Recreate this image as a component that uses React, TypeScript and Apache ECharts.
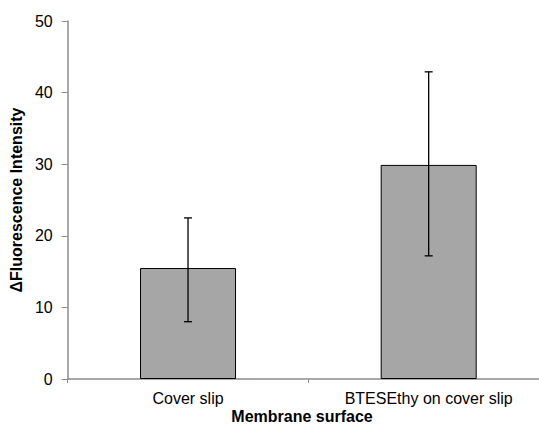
import React, { useEffect, useRef } from "react";
import * as echarts from "echarts";

const categories = ["Cover slip", "BTESEthy on cover slip"];
const means = [15.5, 29.9];
const errLow = [8.0, 17.2];
const errHigh = [22.5, 42.9];
const yTicks = { min: 0, max: 50, interval: 10 };

export default function App() {
  const ref = useRef<HTMLDivElement>(null);
  useEffect(() => {
    const chart = echarts.init(ref.current!, null, { renderer: "svg" });
    const font = "'Liberation Sans', Arial, sans-serif";
    chart.setOption({
      animation: false,
      backgroundColor: "#ffffff",
      grid: { left: 67, top: 21, width: 482, bottom: 46 },
      xAxis: {
        type: "category",
        data: categories,
        axisLine: { lineStyle: { color: "#8c8c8c", width: 1.5 } },
        axisTick: { show: true, length: 4, lineStyle: { color: "#8c8c8c" } },
        axisLabel: { color: "#000", fontFamily: font, fontSize: 16, margin: 11 },
      },
      yAxis: {
        type: "value",
        min: yTicks.min,
        max: yTicks.max,
        interval: yTicks.interval,
        name: "ΔFluorescence Intensity",
        nameLocation: "middle",
        nameGap: 42,
        nameTextStyle: { color: "#000", fontFamily: font, fontSize: 16, fontWeight: "bold" },
        splitLine: { show: false },
        axisLine: { show: true, lineStyle: { color: "#8c8c8c", width: 1.5 } },
        axisTick: { show: true, length: 6, lineStyle: { color: "#8c8c8c" } },
        axisLabel: { color: "#000", fontFamily: font, fontSize: 16, margin: 15 },
      },
      graphic: [
        {
          type: "text",
          x: 302,
          y: 416,
          style: {
            text: "Membrane surface",
            font: `bold 16px ${font}`,
            fill: "#000",
            align: "center",
            verticalAlign: "middle",
          },
        },
      ],
      series: [
        {
          type: "bar",
          data: means,
          barWidth: 96,
          itemStyle: { color: "#a6a6a6", borderColor: "#000", borderWidth: 1 },
        },
        {
          type: "custom",
          data: categories.map((_, i) => [i, errLow[i], errHigh[i]]),
          renderItem: (params: any, api: any) => {
            const x = api.value(0);
            const lo = api.coord([x, api.value(1)]);
            const hi = api.coord([x, api.value(2)]);
            const cap = 4;
            const style = { stroke: "#000", lineWidth: 1.3 };
            return {
              type: "group",
              children: [
                { type: "line", shape: { x1: lo[0], y1: lo[1], x2: hi[0], y2: hi[1] }, style },
                { type: "line", shape: { x1: lo[0] - cap, y1: lo[1], x2: lo[0] + cap, y2: lo[1] }, style },
                { type: "line", shape: { x1: hi[0] - cap, y1: hi[1], x2: hi[0] + cap, y2: hi[1] }, style },
              ],
            };
          },
          z: 10,
        },
      ],
    });
    return () => chart.dispose();
  }, []);
  return (
    <div
      style={{ position: "absolute", left: 0, top: 0, width: 539, height: 425, overflow: "hidden", background: "#fff" }}
    >
      <div ref={ref} style={{ width: 560, height: 425 }} />
    </div>
  );
}
